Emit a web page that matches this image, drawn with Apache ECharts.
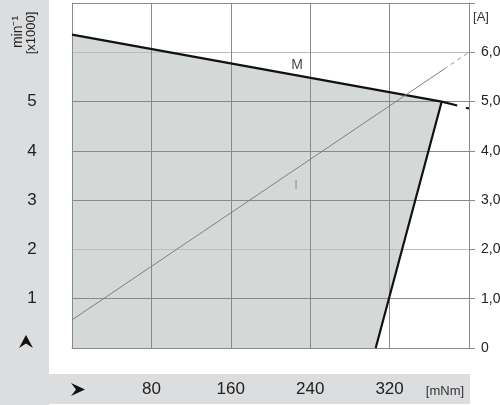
<!DOCTYPE html>
<html>
<head>
<meta charset="utf-8">
<script src="https://cdn.jsdelivr.net/npm/echarts@6/dist/echarts.min.js"></script>
<style>
  html, body { margin: 0; padding: 0; background: #fff; }
  #main { width: 500px; height: 405px; }
</style>
</head>
<body>
<div id="main"></div>
<script>
// torque axis [mNm]
var torqueLabels = ['', '80', '160', '240', '320', ''];
// speed axis [x1000 min-1], current axis [A]
var speedLabels = ['', '1', '2', '3', '4', '5', '', ''];
var currentLabels = ['0', '1,0', '2,0', '3,0', '4,0', '5,0', '6,0', ''];

// operating range: speed line M, then stall side down to 0
var speedCurve = [[0, 6.36], [372.5, 5.0], [306, 0]];
var speedExt = [[372.5, 5.0], [400, 4.86]];
// current line I
var currentSolid = [[0, 0.57], [375, 5.66]];
var currentExt = [[375, 5.66], [400, 6.0]];
// curve names
var curveTags = [{ name: 'M', value: [226.7, 5.73] }, { name: 'I', value: [225.7, 3.3] }];

var chart = echarts.init(document.getElementById('main'));

var dark = '#8a8a8a', light = '#bdbdbd';
var font = 'Liberation Sans, Arial, sans-serif';

var option = {
  animation: false,
  grid: { left: 72, right: 31, top: 3, bottom: 57, outerBoundsMode: 'none', containLabel: false },
  graphic: [
    { type: 'rect', z: -10, shape: { x: 0, y: 0, width: 49, height: 405 }, style: { fill: '#dcdddf' } },
    { type: 'rect', z: -10, shape: { x: 0, y: 374, width: 470, height: 30 }, style: { fill: '#dcdddf' } },
    { type: 'polygon', shape: { points: [[26, 335], [19, 348], [26, 343.5], [33, 348]] }, style: { fill: '#111' } },
    { type: 'polygon', shape: { points: [[85, 389.5], [71, 383], [76, 389.5], [71, 396]] }, style: { fill: '#111' } },
    { type: 'text', x: 18, y: 32, rotation: Math.PI / 2,
      style: { text: 'min⁻¹', font: '14px ' + font, fill: '#222', textAlign: 'center', textVerticalAlign: 'middle' } },
    { type: 'text', x: 31, y: 33, rotation: Math.PI / 2,
      style: { text: '[x1000]', font: '13px ' + font, fill: '#222', textAlign: 'center', textVerticalAlign: 'middle' } },
    { type: 'text', x: 481, y: 17,
      style: { text: '[A]', font: '13px ' + font, fill: '#333', textAlign: 'center', textVerticalAlign: 'middle' } },
    { type: 'text', x: 445, y: 391,
      style: { text: '[mNm]', font: '13px ' + font, fill: '#333', textAlign: 'center', textVerticalAlign: 'middle' } }
  ],
  xAxis: {
    type: 'value', min: 0, max: 400, interval: 80,
    axisLine: { show: true, lineStyle: { color: dark, width: 1 } },
    axisTick: { show: false },
    splitLine: { show: true, lineStyle: { color: dark, width: 1 } },
    axisLabel: {
      margin: 33, fontSize: 17, color: '#222', fontFamily: font,
      formatter: function (v) { return torqueLabels[Math.round(v / 80)]; }
    }
  },
  yAxis: [{
    type: 'value', min: 0, max: 7, interval: 1,
    axisLine: { show: true, lineStyle: { color: dark, width: 1 } },
    axisTick: { show: false },
    splitLine: { show: true, lineStyle: { color: [dark, dark, light, dark, dark, dark, light, dark], width: 1 } },
    axisLabel: {
      margin: 40, align: 'center', fontSize: 17, color: '#222', fontFamily: font,
      formatter: function (v) { return speedLabels[Math.round(v)]; }
    }
  }, {
    type: 'value', min: 0, max: 7, interval: 1, position: 'right',
    axisLine: { show: true, lineStyle: { color: dark, width: 1 } },
    axisTick: { show: true, length: 6, lineStyle: { color: dark } },
    splitLine: { show: false },
    axisLabel: {
      margin: 12, fontSize: 14, color: '#222', fontFamily: font,
      formatter: function (v) { return currentLabels[Math.round(v)]; }
    }
  }],
  series: [{
    // fill under the grid lines
    type: 'line', data: speedCurve, showSymbol: false, z: -1,
    lineStyle: { width: 0, opacity: 0 },
    areaStyle: { color: '#d4d8d7', opacity: 1 }
  }, {
    type: 'line', data: speedCurve, showSymbol: false, z: 3,
    lineStyle: { color: '#111', width: 2.2 }
  }, {
    type: 'line', data: speedExt, showSymbol: false, z: 3,
    lineStyle: { color: '#111', width: 2.2, type: [16, 9] }
  }, {
    type: 'line', yAxisIndex: 1, data: currentSolid, showSymbol: false, z: 4,
    lineStyle: { color: '#808080', width: 1 }
  }, {
    type: 'line', yAxisIndex: 1, data: currentExt, showSymbol: false, z: 4,
    lineStyle: { color: '#909090', width: 1, type: [4, 4] }
  }, {
    type: 'scatter', data: curveTags, symbolSize: 0, z: 5,
    label: {
      show: true, position: 'inside', fontFamily: font,
      formatter: function (p) { return p.name; },
      color: '#111', fontSize: 14
    },
    itemStyle: { color: 'transparent' }
  }]
};

option.series[5].data[1].label = { color: '#888', fontSize: 13 };

chart.setOption(option);
</script>
</body>
</html>
